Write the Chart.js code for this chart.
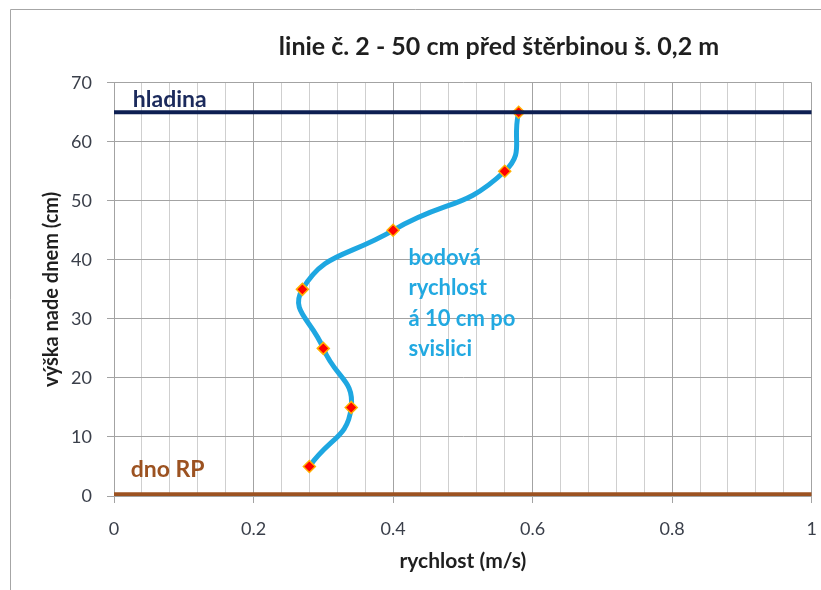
<!DOCTYPE html>
<html><head><meta charset="utf-8">
<script src="https://cdn.jsdelivr.net/npm/chart.js@4"></script>
<style>html,body{margin:0;padding:0;background:#fff}#wrap{width:821px;height:590px}</style>
</head><body><div id="wrap"><canvas id="c" width="821" height="590"></canvas></div>
<script>
// ---- data ----
const heights = [5, 15, 25, 35, 45, 55, 65];
const velocities = [0.28, 0.34, 0.30, 0.27, 0.40, 0.56, 0.58];
const surfaceLevel = 65;
const bottomLevel = 0.3;
const xTickLabels = ['0', '0.2', '0.4', '0.6', '0.8', '1'];
const yTickLabels = ['0', '10', '20', '30', '40', '50', '60', '70'];
const titleText = 'linie č. 2 - 50 cm před štěrbinou š. 0,2 m';
const xTitle = 'rychlost (m/s)';
const yTitle = 'výška nade dnem (cm)';
const noteLines = ['bodová', 'rychlost', 'á 10 cm po', 'svislici'];
const surfaceLabel = 'hladina';
const bottomLabel = 'dno RP';

const FONT = "Lato, 'Open Sans', sans-serif";
const profile = heights.map((h, i) => ({x: velocities[i], y: h}));

const decor = {
  id: 'decor',
  beforeDraw(chart) {
    const ctx = chart.ctx;
    ctx.save();
    ctx.fillStyle = '#fff';
    ctx.fillRect(0, 0, chart.width, chart.height);
    ctx.strokeStyle = '#a6a6a6';
    ctx.lineWidth = 1;
    ctx.beginPath();
    ctx.moveTo(10.5, chart.height);
    ctx.lineTo(10.5, 9.5);
    ctx.lineTo(chart.width, 9.5);
    ctx.stroke();
    ctx.restore();
  },
  afterDraw(chart) {
    const ctx = chart.ctx;
    const xs = chart.scales.x, ys = chart.scales.y;
    ctx.save();
    ctx.textBaseline = 'middle';
    ctx.textAlign = 'center';
    ctx.fillStyle = '#1f1f1f';
    ctx.font = "bold 25px " + FONT;
    ctx.fillText(titleText, 499, 47);
    ctx.textAlign = 'left';
    ctx.font = "bold 23px " + FONT;
    ctx.fillStyle = '#1b2a5c';
    ctx.fillText(surfaceLabel, xs.getPixelForValue(0.027), ys.getPixelForValue(67.1));
    ctx.fillStyle = '#9c5221';
    ctx.fillText(bottomLabel, xs.getPixelForValue(0.024), ys.getPixelForValue(4.4));
    ctx.fillStyle = '#22a9e1';
    ctx.font = "bold 22px " + FONT;
    const noteY = [40.3, 35.2, 30.0, 24.9];
    noteLines.forEach((t, i) => ctx.fillText(t, xs.getPixelForValue(0.422), ys.getPixelForValue(noteY[i])));
    ctx.restore();
  }
};

const isMajorX = v => Math.round(v / 0.04) % 5 === 0;

new Chart(document.getElementById('c'), {
  type: 'scatter',
  data: {
    datasets: [
      {
        data: [{x: 0, y: surfaceLevel}, {x: 1, y: surfaceLevel}],
        showLine: true, borderColor: '#0d1f52', borderWidth: 4, pointRadius: 0
      },
      {
        data: profile,
        showLine: true, borderColor: '#1ea7e1', borderWidth: 5, tension: 0.5,
        pointStyle: 'rectRot', pointRadius: 6, pointBackgroundColor: '#ff0000',
        pointBorderColor: '#ffb000', pointBorderWidth: 1.5
      },
      {
        data: [{x: 0, y: bottomLevel}, {x: 1, y: bottomLevel}],
        showLine: true, borderColor: '#9c5221', borderWidth: 4, pointRadius: 0
      }
    ]
  },
  options: {
    responsive: false,
    animation: false,
    layout: {padding: {top: 82.7, right: 9.3, left: 0, bottom: 0}},
    plugins: {legend: {display: false}, tooltip: {enabled: false}, title: {display: false}},
    scales: {
      x: {
        type: 'linear', min: 0, max: 1,
        afterFit: s => { s.height = 94; s.paddingRight = 0; s.paddingLeft = 0; },
        ticks: {
          stepSize: 0.04, autoSkip: false, maxRotation: 0, padding: 15,
          color: '#3a3f4a', font: {family: FONT, size: 18},
          callback: v => isMajorX(v) ? xTickLabels[Math.round(v / 0.2)] : ''
        },
        grid: {
          color: c => (c.tick && isMajorX(c.tick.value)) ? '#a3a3a3' : '#cfcfcf',
          tickColor: c => (c.tick && isMajorX(c.tick.value)) ? '#a3a3a3' : 'rgba(0,0,0,0)',
          tickLength: 7
        },
        border: {color: '#a3a3a3'},
        title: {display: true, text: xTitle, color: '#1f1f1f', font: {family: FONT, size: 21, weight: 'bold'}, padding: {bottom: 16, top: 0}}
      },
      y: {
        type: 'linear', min: 0, max: 70,
        afterFit: s => { s.width = 114; s.paddingTop = 0; s.paddingBottom = 0; },
        ticks: {
          stepSize: 10, padding: 15, color: '#3a3f4a', font: {family: FONT, size: 18},
          callback: v => yTickLabels[Math.round(v / 10)]
        },
        grid: {color: '#a3a3a3', tickColor: '#a3a3a3', tickLength: 7},
        border: {color: '#a3a3a3'},
        title: {display: true, text: yTitle, color: '#1f1f1f', font: {family: FONT, size: 20, weight: 'bold'}, padding: {top: 40, bottom: 0}}
      }
    }
  },
  plugins: [decor]
});
</script>
</body></html>
